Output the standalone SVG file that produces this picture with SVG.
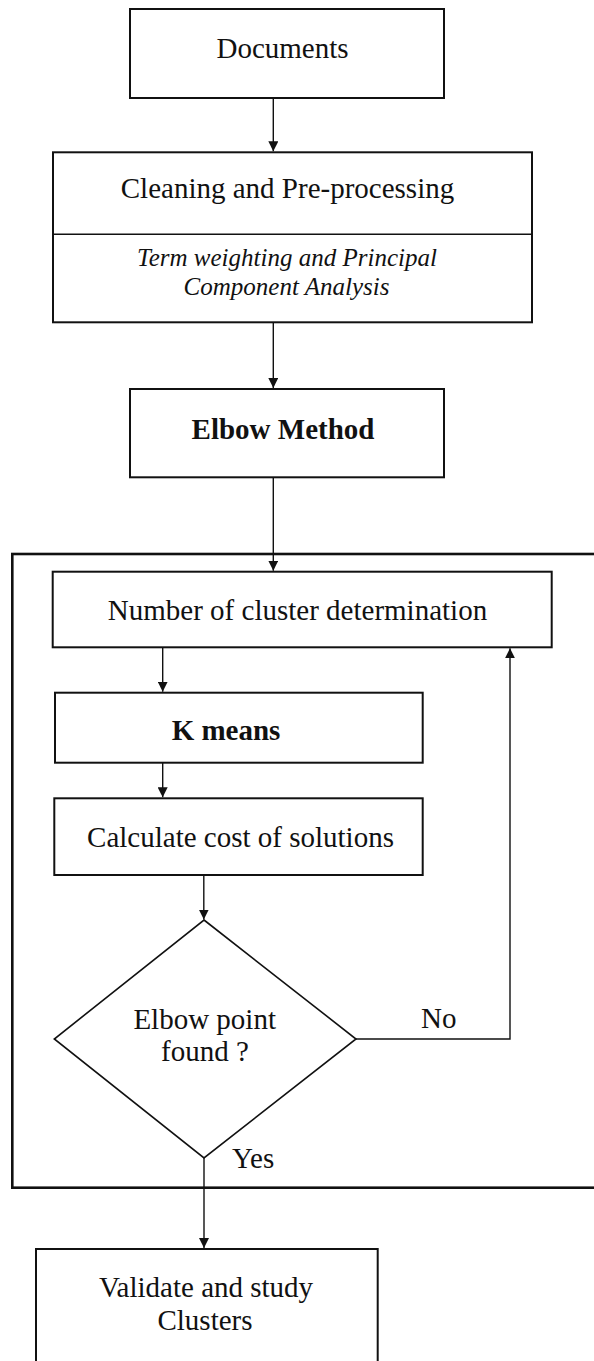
<svg xmlns="http://www.w3.org/2000/svg" width="594" height="1361" viewBox="0 0 594 1361">
<style>
.box{fill:#fff;stroke:#111;stroke-width:2}
.outer{fill:none;stroke:#111;stroke-width:2.6}
.t{font-family:"Liberation Serif","Times New Roman",serif;font-size:29px;fill:#111;text-anchor:middle}
.b{font-weight:bold}
.i{font-style:italic;font-size:25px}
.s{text-anchor:start}
.c{fill:none;stroke:#111;stroke-width:1.4}
</style>
<defs>
<marker id="ah" viewBox="0 0 10 10" refX="10" refY="5" markerWidth="10" markerHeight="10" markerUnits="userSpaceOnUse" orient="auto">
<path d="M0,0 L10,5 L0,10 z" fill="#111"/>
</marker>
</defs>
<rect width="594" height="1361" fill="#fff"/>
<g id="container">
<rect class="outer" x="12.3" y="554" width="600" height="633.7"/>
</g>
<g id="documents">
<rect class="box" x="130" y="9" width="314" height="89"/>
<text class="t" x="282.5" y="58.3">Documents</text>
</g>
<g id="cleaning">
<rect class="box" x="53" y="152.3" width="479" height="170"/>
<line x1="53" y1="234.3" x2="532" y2="234.3" stroke="#111" stroke-width="1.4"/>
<text class="t" x="287.5" y="198">Cleaning and Pre-processing</text>
<text class="t i" x="287" y="266">Term weighting and Principal</text>
<text class="t i" x="286.5" y="295">Component Analysis</text>
</g>
<g id="elbow-method">
<rect class="box" x="130" y="389" width="314" height="88.3"/>
<text class="t b" x="283" y="439">Elbow Method</text>
</g>
<g id="number-of-cluster">
<rect class="box" x="52.7" y="571.7" width="499" height="75.6"/>
<text class="t" x="297.5" y="620">Number of cluster determination</text>
</g>
<g id="k-means">
<rect class="box" x="55" y="692.7" width="367.7" height="70"/>
<text class="t b" x="226" y="740">K means</text>
</g>
<g id="calculate-cost">
<rect class="box" x="54.3" y="798.3" width="368.4" height="76.7"/>
<text class="t" x="240.5" y="847">Calculate cost of solutions</text>
</g>
<g id="elbow-point">
<polygon points="204,920 356,1039 204,1158 54.3,1039" fill="#fff" stroke="#111" stroke-width="1.6"/>
<text class="t" x="204.7" y="1029">Elbow point</text>
<text class="t" x="205" y="1060.7">found ?</text>
</g>
<g id="validate">
<rect class="box" x="36" y="1249" width="341.7" height="130"/>
<text class="t" x="206" y="1296.7">Validate and study</text>
<text class="t" x="205" y="1330">Clusters</text>
</g>
<g id="connectors">
<line class="c" x1="273.3" y1="98" x2="273.3" y2="151.3" marker-end="url(#ah)"/>
<line class="c" x1="273.3" y1="322.3" x2="273.3" y2="388" marker-end="url(#ah)"/>
<line class="c" x1="273.3" y1="477.3" x2="273.3" y2="570.7" marker-end="url(#ah)"/>
<line class="c" x1="162.7" y1="647.3" x2="162.7" y2="691.7" marker-end="url(#ah)"/>
<line class="c" x1="162.7" y1="762.7" x2="162.7" y2="797.3" marker-end="url(#ah)"/>
<line class="c" x1="203.8" y1="875" x2="203.8" y2="919.5" marker-end="url(#ah)"/>
<polyline class="c" points="356,1039 510,1039 510,648.3" marker-end="url(#ah)"/>
<line class="c" x1="204" y1="1158" x2="204" y2="1248" marker-end="url(#ah)"/>
<text class="t s" x="421" y="1028">No</text>
<text class="t s" x="232" y="1168">Yes</text>
</g>
</svg>
